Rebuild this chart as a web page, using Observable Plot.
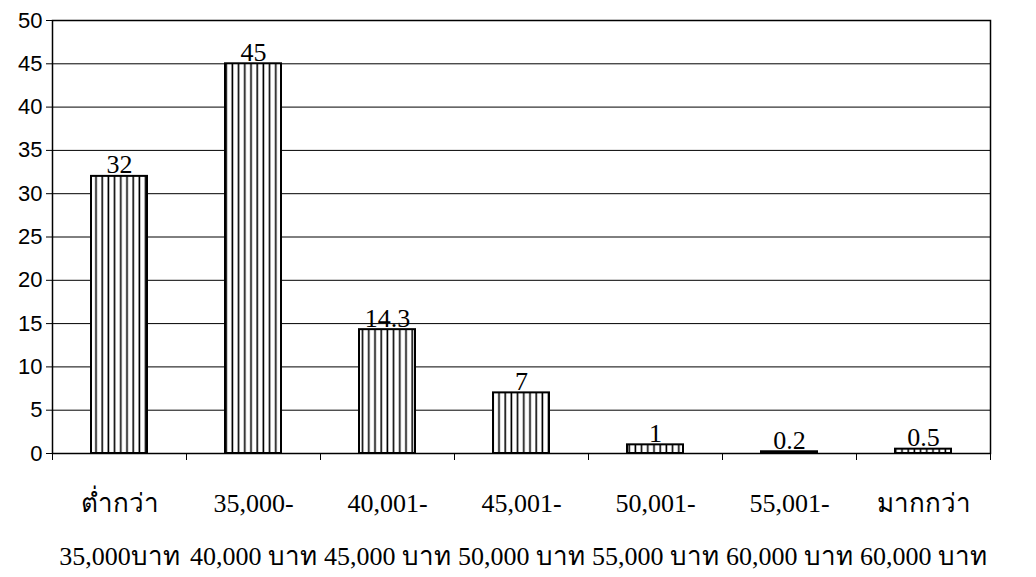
<!DOCTYPE html>
<html>
<head>
<meta charset="utf-8">
<script src="https://cdn.jsdelivr.net/npm/d3@7"></script>
<script src="https://cdn.jsdelivr.net/npm/@observablehq/plot@0.6"></script>
<style>
  html, body { margin: 0; padding: 0; background: #fff; }
  #chart svg { display: block; }
</style>
</head>
<body>
<div id="chart"></div>
<script>
// Income brackets (two-line category labels) and share of respondents (%)
const categories = ["c1", "c2", "c3", "c4", "c5", "c6", "c7"];
const labelLine1 = ["ต่ำกว่า", "35,000-", "40,001-", "45,001-", "50,001-", "55,001-", "มากกว่า"];
const labelLine2 = ["35,000บาท", "40,000 บาท", "45,000 บาท", "50,000 บาท", "55,000 บาท", "60,000 บาท", "60,000 บาท"];
const values = [32, 45, 14.3, 7, 1, 0.2, 0.5];
const valueLabels = ["32", "45", "14.3", "7", "1", "0.2", "0.5"];
const yTicks = [0, 5, 10, 15, 20, 25, 30, 35, 40, 45, 50];

const data = categories.map((c, i) => ({cat: c, value: values[i], label: valueLabels[i]}));

const W = 1036, H = 577;
const margin = {top: 20, right: 46, bottom: 124, left: 52};
const step = (W - margin.left - margin.right) / categories.length;
const serif = "'Liberation Serif', 'Times New Roman', serif";
const sans = "'Liberation Sans', Arial, sans-serif";

const plot = Plot.plot({
  width: W,
  height: H,
  marginTop: margin.top,
  marginRight: margin.right,
  marginBottom: margin.bottom,
  marginLeft: margin.left,
  style: {background: "#fff", color: "#000", overflow: "visible"},
  x: {domain: categories, paddingInner: 0.58, paddingOuter: 0.29},
  y: {domain: [0, 50]},
  marks: [
    // horizontal gridlines
    Plot.ruleY(yTicks, {stroke: "#000", strokeWidth: 1}),
    // hatched bars
    Plot.barY(data, {x: "cat", y: "value", fill: "url(#vhatch)", stroke: "#000", strokeWidth: 2}),
    // value labels above bars
    Plot.text(data, {x: "cat", y: "value", text: "label", lineAnchor: "bottom", dy: -3,
      fontFamily: serif, fontSize: 26, fill: "#000"}),
    // tick marks at category boundaries below the baseline
    Plot.ruleX(data, {x: "cat", y1: 0, y2: 0, dx: -step / 2, insetBottom: -7, stroke: "#000"}),
    Plot.ruleX(data.slice(-1), {x: "cat", y1: 0, y2: 0, dx: step / 2, insetBottom: -7, stroke: "#000"}),
    Plot.axisY({ticks: yTicks, tickSize: 6, tickPadding: 4, fontFamily: sans, fontSize: 22,
      tickFormat: d => String(d), label: null}),
    Plot.axisX({tickSize: 0, tickPadding: 21, fontFamily: serif, fontSize: 26, lineHeight: 2.04,
      tickFormat: (d) => { const i = categories.indexOf(d); return labelLine1[i] + "\n" + labelLine2[i]; },
      label: null}),
    Plot.frame({stroke: "#000", strokeWidth: 1.5})
  ]
});

// vertical-line hatch used as the bar fill
const svg = d3.select(plot);
const defs = svg.insert("defs", ":first-child");
const pat = defs.append("pattern")
  .attr("id", "vhatch")
  .attr("patternUnits", "userSpaceOnUse")
  .attr("width", 6.2)
  .attr("height", 10);
pat.append("rect").attr("width", 6.2).attr("height", 10).attr("fill", "#fff");
pat.append("line").attr("x1", 3).attr("x2", 3).attr("y1", 0).attr("y2", 10)
  .attr("stroke", "#000").attr("stroke-width", 1.6);

document.getElementById("chart").appendChild(plot);
</script>
</body>
</html>
